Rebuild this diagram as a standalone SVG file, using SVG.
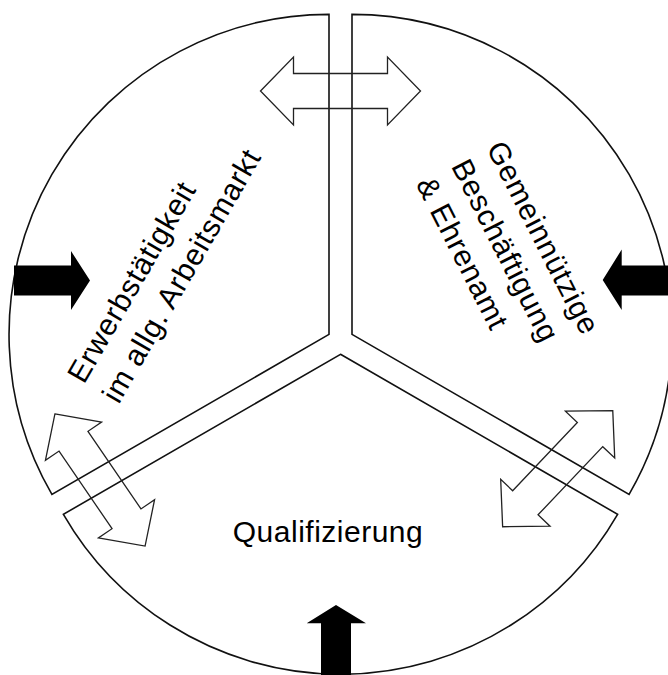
<svg xmlns="http://www.w3.org/2000/svg" width="668" height="675" viewBox="0 0 668 675">
  <defs>
    <style>
      .sector { fill: none; stroke: #111; stroke-width: 1.6; stroke-linejoin: miter; }
      .lbl { font-family: "Liberation Sans", Arial, sans-serif; font-size: 30px; fill: #000; }
      .dbl { fill: none; stroke: #222; stroke-width: 1.3; stroke-linejoin: miter; }
      .blk { fill: #000; stroke: none; }
    </style>
    <path id="dblArrow" d="M-80,0 L-47,-34 L-47,-17.5 L47,-17.5 L47,-34 L80,0 L47,34 L47,17.5 L-47,17.5 L-47,34 Z"/>
  </defs>
  <rect x="0" y="0" width="668" height="675" fill="#fff"/>

  <g id="sector-erwerb">
    <path class="sector" d="M329,334.4 L51.9,494.4 A320,320 0 0 1 329,14.4 Z"/>
    <text class="lbl" letter-spacing="0.8" transform="translate(84,385) rotate(-60)">
      <tspan x="0" y="0">Erwerbstätigkeit</tspan>
      <tspan x="0" y="40">im allg. Arbeitsmarkt</tspan>
    </text>
  </g>

  <g id="sector-gemein">
    <path class="sector" d="M352,334.4 L352,14.4 A320,320 0 0 1 629.1,494.4 Z"/>
    <text class="lbl" letter-spacing="0.8" transform="translate(486,148) rotate(63)">
      <tspan x="0" y="0">Gemeinnützige</tspan>
      <tspan x="0" y="39.5">Beschäftigung</tspan>
      <tspan x="0" y="79">&amp; Ehrenamt</tspan>
    </text>
  </g>

  <g id="sector-quali">
    <path class="sector" d="M340.5,354.3 L617.6,514.3 A320,320 0 0 1 63.4,514.3 Z"/>
    <text class="lbl" letter-spacing="0.5" x="328" y="542" text-anchor="middle">Qualifizierung</text>
  </g>

  <g id="connectors">
    <use href="#dblArrow" class="dbl" transform="translate(340.5,91)"/>
    <use href="#dblArrow" class="dbl" transform="translate(100,480) rotate(55.7)"/>
    <use href="#dblArrow" class="dbl" transform="translate(557.7,468.7) rotate(-46.5)"/>
    <polygon class="blk" points="14,265.5 71,265.5 71,251 90,280.5 71,310 71,295.5 14,295.5"/>
    <polygon class="blk" points="668,265.5 621.7,265.5 621.7,249.5 602.7,280 621.7,310 621.7,295.5 668,295.5"/>
    <polygon class="blk" points="321,675 321,623.3 306.7,623.3 336,605 366,623.3 351,623.3 351,675"/>
  </g>
</svg>
